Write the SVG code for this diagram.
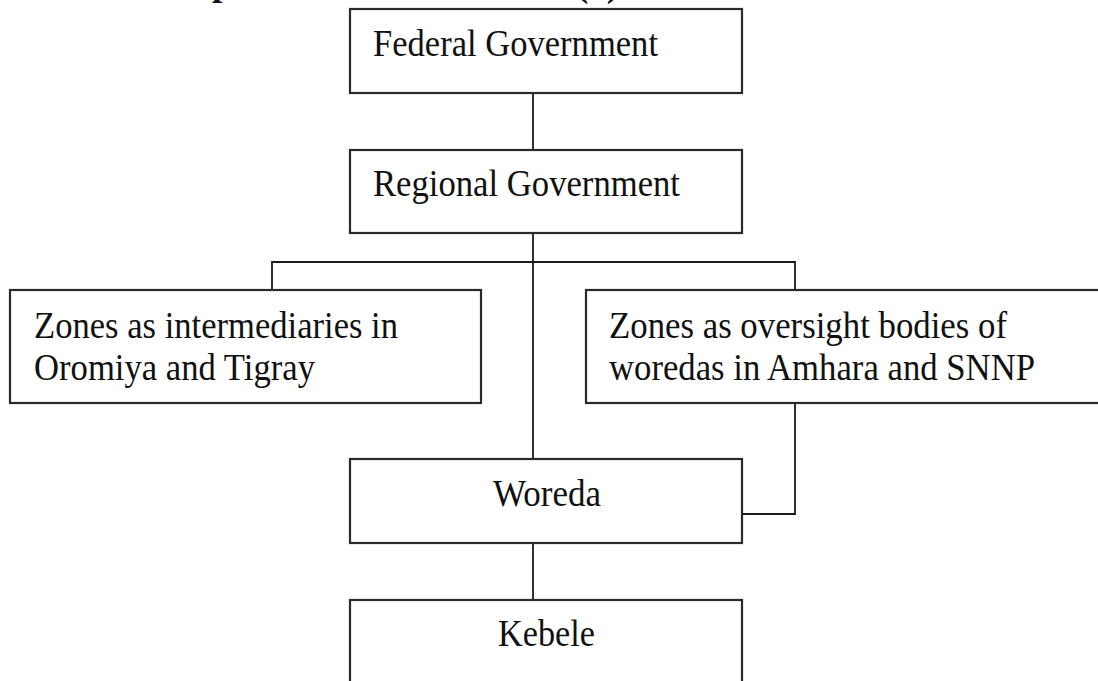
<svg xmlns="http://www.w3.org/2000/svg" width="1098" height="681" viewBox="0 0 1098 681">
  <style>
    .box { fill: #ffffff; stroke: #2a2a2a; stroke-width: 2.2; }
    .conn { fill: none; stroke: #1a1a1a; stroke-width: 1.8; }
    .lbl { font-family: "Liberation Serif", "Times New Roman", serif; font-size: 37px; fill: #111111; }
    .head { font-family: "Liberation Serif", "Times New Roman", serif; font-size: 37px; font-weight: bold; fill: #111111; }
  </style>
  <rect x="0" y="0" width="1098" height="681" fill="#ffffff"/>
  <g id="heading-fragment">
    <text class="head" x="212" y="-5">p</text>
    <text class="head" x="576" y="-4">(1)</text>
  </g>
  <g id="connectors">
    <line class="conn" x1="533" y1="93" x2="533" y2="150"/>
    <line class="conn" x1="533" y1="233" x2="533" y2="459"/>
    <polyline class="conn" points="272,290 272,262 795,262 795,290"/>
    <polyline class="conn" points="795,403 795,514 742,514"/>
    <line class="conn" x1="533" y1="543" x2="533" y2="600"/>
  </g>
  <g id="federal">
    <rect class="box" x="350" y="9" width="392" height="84"/>
    <text class="lbl" x="373" y="56" textLength="285" lengthAdjust="spacingAndGlyphs">Federal Government</text>
  </g>
  <g id="regional">
    <rect class="box" x="350" y="150" width="392" height="83"/>
    <text class="lbl" x="373" y="196" textLength="307" lengthAdjust="spacingAndGlyphs">Regional Government</text>
  </g>
  <g id="zones-intermediaries">
    <rect class="box" x="10" y="290" width="471" height="113"/>
    <text class="lbl" x="34" y="338" textLength="364" lengthAdjust="spacingAndGlyphs">Zones as intermediaries in</text>
    <text class="lbl" x="34" y="380" textLength="281" lengthAdjust="spacingAndGlyphs">Oromiya and Tigray</text>
  </g>
  <g id="zones-oversight">
    <rect class="box" x="586" y="290" width="530" height="113"/>
    <text class="lbl" x="609" y="338" textLength="398" lengthAdjust="spacingAndGlyphs">Zones as oversight bodies of</text>
    <text class="lbl" x="609" y="380" textLength="426" lengthAdjust="spacingAndGlyphs">woredas in Amhara and SNNP</text>
  </g>
  <g id="woreda">
    <rect class="box" x="350" y="459" width="392" height="84"/>
    <text class="lbl" x="493" y="506" textLength="108" lengthAdjust="spacingAndGlyphs">Woreda</text>
  </g>
  <g id="kebele">
    <rect class="box" x="350" y="600" width="392" height="110"/>
    <text class="lbl" x="498" y="646" textLength="97" lengthAdjust="spacingAndGlyphs">Kebele</text>
  </g>
</svg>
